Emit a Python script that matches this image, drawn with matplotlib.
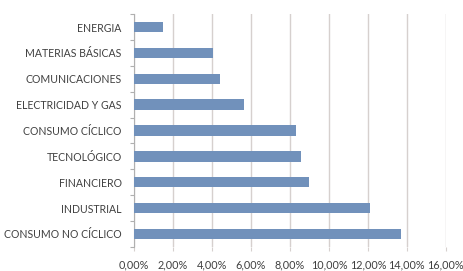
import matplotlib.pyplot as plt
import numpy as np

sectores = ['ENERGIA', 'MATERIAS BÁSICAS', 'COMUNICACIONES', 'ELECTRICIDAD Y GAS',
            'CONSUMO CÍCLICO', 'TECNOLÓGICO', 'FINANCIERO', 'INDUSTRIAL',
            'CONSUMO NO CÍCLICO']
pesos = [1.5, 4.05, 4.4, 5.65, 8.3, 8.55, 9.0, 12.08, 13.7]
x_ticks = [0, 2, 4, 6, 8, 10, 12, 14, 16]

plt.rcParams['font.family'] = ['Lato', 'DejaVu Sans']

fig = plt.figure(figsize=(4.64, 2.71), dpi=100)
ax = fig.add_axes([0.289, 0.089, 0.672, 0.859])

n = len(sectores)
pos = np.arange(n)[::-1]  # first category on top
ax.barh(pos, pesos, height=0.4, color='#7191BB', zorder=3)

ax.set_xlim(0, 16)
ax.set_ylim(-0.5, n - 0.5)
ax.set_xticks(x_ticks)
ax.set_xticklabels([f'{v:.2f}'.replace('.', ',') + '%' for v in x_ticks])
ax.grid(axis='x', color='#d6d0ce', linewidth=1.0, zorder=0)

# category ticks at boundaries, labels at centers
ax.set_yticks(np.arange(n + 1) - 0.5)
ax.set_yticklabels([])
ax.set_yticks(pos, minor=True)
ax.set_yticklabels(sectores, minor=True)
ax.tick_params(axis='y', which='major', length=3, color='#b0b0b0', direction='out')
ax.tick_params(axis='y', which='minor', length=0, pad=9, labelsize=7.6, labelcolor='#404040')
ax.tick_params(axis='x', length=3, color='#d6d0ce', labelsize=7.8, labelcolor='#404040', pad=6)

for s in ['top', 'right', 'bottom']:
    ax.spines[s].set_visible(False)
ax.spines['left'].set_color('#b0b0b0')

fig.savefig('out.png', dpi=100)
